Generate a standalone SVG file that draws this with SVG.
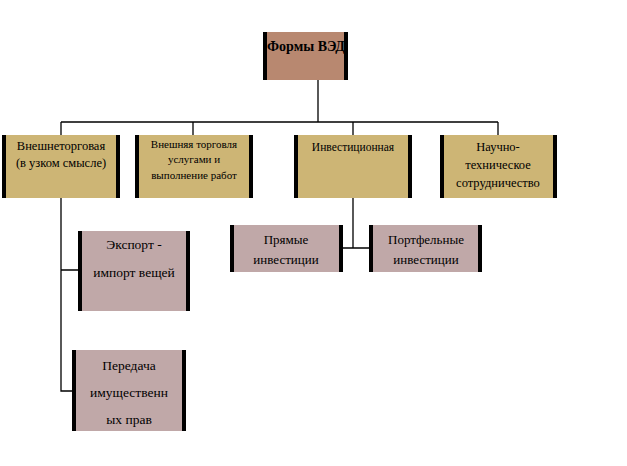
<svg xmlns="http://www.w3.org/2000/svg" width="627" height="466" viewBox="0 0 627 466">
<style>
text{font-family:"Liberation Serif","Times New Roman",serif;fill:#000;text-anchor:middle}
.b{stroke:#000;stroke-width:4}
.top{fill:#b88870}.l2{fill:#cdb575}.l3{fill:#c0a8a8}
.c{stroke:#000;stroke-width:1.3;fill:none}
</style>
<rect width="627" height="466" fill="#fff"/>
<g id="connectors">
<path class="c" d="M318 80V122M61 122H498M61 122V135M193 122V135M353 122V135M498 122V135M61 198V391H72M61 270H78M353 198V248M341 248H370"/>
</g>
<g id="forms"><rect class="top" x="263" y="32" width="85" height="48"/><path class="b" d="M265 32V80M346 32V80"/><text x="306" y="51" font-size="14" font-weight="bold">Формы ВЭД</text></g>
<g id="vneshnetorg"><rect class="l2" x="2" y="135" width="118" height="63"/><path class="b" d="M4 135V198M118 135V198"/><text x="61" y="150" font-size="12.5">Внешнеторговая</text><text x="61" y="167" font-size="12.5">(в узком смысле)</text></g>
<g id="uslugi"><rect class="l2" x="135" y="135" width="118" height="63"/><path class="b" d="M137 135V198M251 135V198"/><text x="194" y="148" font-size="11">Внешняя торговля</text><text x="194" y="163" font-size="11">услугами и</text><text x="194" y="179" font-size="11">выполнение работ</text></g>
<g id="invest"><rect class="l2" x="294" y="135" width="118" height="63"/><path class="b" d="M296 135V198M410 135V198"/><text x="353" y="151" font-size="11.5">Инвестиционная</text></g>
<g id="nauch"><rect class="l2" x="440" y="135" width="117" height="63"/><path class="b" d="M442 135V198M555 135V198"/><text x="498" y="151" font-size="12.5">Научно-</text><text x="498" y="169" font-size="12.5">техническое</text><text x="498" y="187" font-size="12.5">сотрудничество</text></g>
<g id="pryamye"><rect class="l3" x="230" y="225" width="113" height="47"/><path class="b" d="M232 225V272M341 225V272"/><text x="286" y="244" font-size="13">Прямые</text><text x="286" y="264" font-size="13">инвестиции</text></g>
<g id="portf"><rect class="l3" x="369" y="225" width="113" height="47"/><path class="b" d="M371 225V272M480 225V272"/><text x="426" y="244" font-size="13">Портфельные</text><text x="426" y="264" font-size="13">инвестиции</text></g>
<g id="export"><rect class="l3" x="78" y="231" width="112" height="80"/><path class="b" d="M80 231V311M188 231V311"/><text x="134" y="249" font-size="13.5">Экспорт -</text><text x="134" y="277" font-size="13.5">импорт вещей</text></g>
<g id="peredacha"><rect class="l3" x="72" y="350" width="114" height="81"/><path class="b" d="M74 350V431M184 350V431"/><text x="129" y="370" font-size="13.5">Передача</text><text x="129" y="397" font-size="13.5">имущественн</text><text x="129" y="424" font-size="13.5">ых прав</text></g>
</svg>
